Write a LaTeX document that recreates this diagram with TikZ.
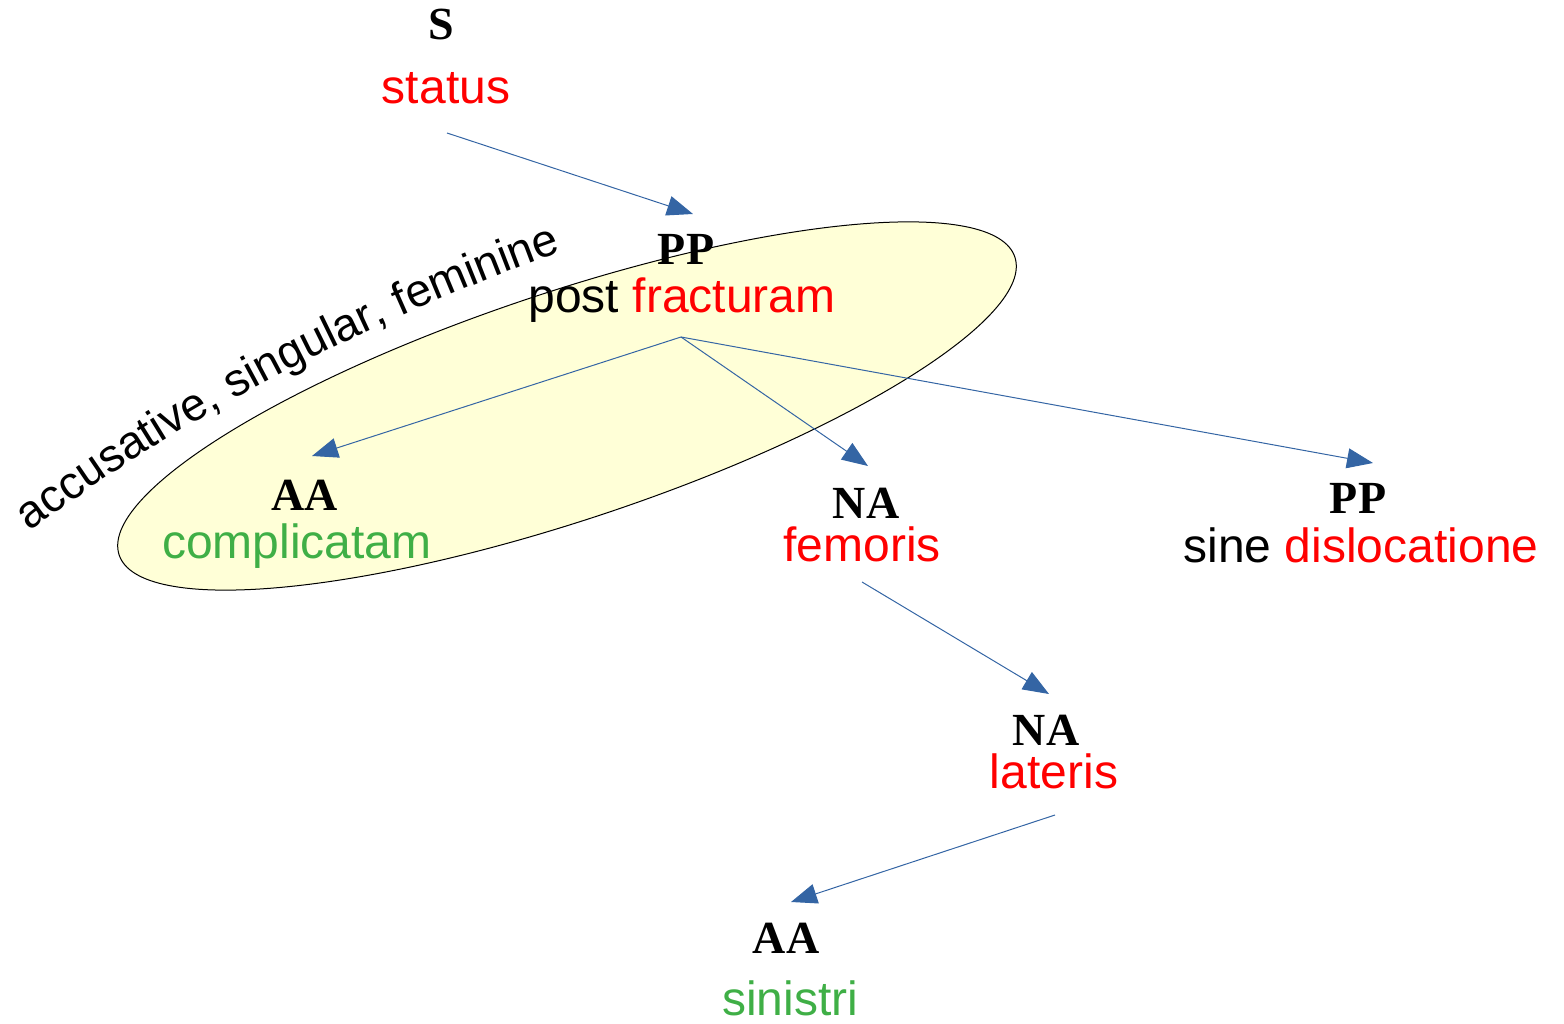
\documentclass[tikz,border=0pt]{standalone}
\usepackage{fontspec}
\setmainfont{Liberation Sans}
\newfontfamily\labfont{Liberation Serif}
\usetikzlibrary{arrows.meta,decorations.text}
\definecolor{lineblue}{HTML}{3465A4}
\definecolor{wred}{HTML}{FF0000}
\definecolor{wgreen}{HTML}{3FAF46}
\definecolor{ellfill}{HTML}{FFFFD7}
\begin{document}
\begin{tikzpicture}[x=1pt,y=-1pt,
  cat/.style={font=\labfont\bfseries\fontsize{46}{50}\selectfont, anchor=base, inner sep=0pt},
  word/.style={font=\fontsize{48}{56}\selectfont, anchor=base, inner sep=0pt},
  link/.style={draw=lineblue, line width=1pt, -{Triangle[length=26pt,width=20pt]}}]
\useasboundingbox (0,0) rectangle (1564,1024);

% group ellipse
\draw[fill=ellfill, line width=1pt, rotate around={18.4:(567,406)}] (567,406) ellipse [x radius=472, y radius=114];

% curved feature label
\path[decorate, decoration={text along path, text align=left,
   text={|\fontsize{46}{54}\selectfont|accusative, singular, feminine}}]
   (30,532) .. controls (188,412) and (372,320) .. (560,252) -- (660,216);

% nodes
\node[cat] (sC) at (441,40) {S};
\node[word,text=wred] (sW) at (446,104) {status};
\node[cat] (pp1C) at (686,265) {PP};
\node[word] (pp1W) at (682,313) {post \textcolor{wred}{fracturam}};
\node[cat] (aa1C) at (305,510) {AA};
\node[word,text=wgreen] (aa1W) at (297,558) {complicatam};
\node[cat] (na1C) at (866,518) {NA};
\node[word,text=wred] (na1W) at (862,561) {femoris};
\node[cat] (pp2C) at (1358,513) {PP};
\node[word] (pp2W) at (1361,562) {sine \textcolor{wred}{dislocatione}};
\node[cat] (na2C) at (1046,745) {NA};
\node[word,text=wred] (na2W) at (1054,788) {lateris};
\node[cat] (aa2C) at (786,953) {AA};
\node[word,text=wgreen] (aa2W) at (790,1015) {sinistri};

% connector ends
\coordinate (sOut) at (447,133);
\coordinate (pp1In) at (693,214);
\coordinate (pp1Out) at (681,337);
\coordinate (aa1In) at (312,456);
\coordinate (na1In) at (868,466);
\coordinate (pp2In) at (1373,463);
\coordinate (na1Out) at (862,582);
\coordinate (na2In) at (1049,694);
\coordinate (na2Out) at (1055,815);
\coordinate (aa2In) at (791,902);

\draw[link] (sOut) -- (pp1In);
\draw[link] (pp1Out) -- (aa1In);
\draw[link] (pp1Out) -- (na1In);
\draw[link] (pp1Out) -- (pp2In);
\draw[link] (na1Out) -- (na2In);
\draw[link] (na2Out) -- (aa2In);
\end{tikzpicture}
\end{document}
